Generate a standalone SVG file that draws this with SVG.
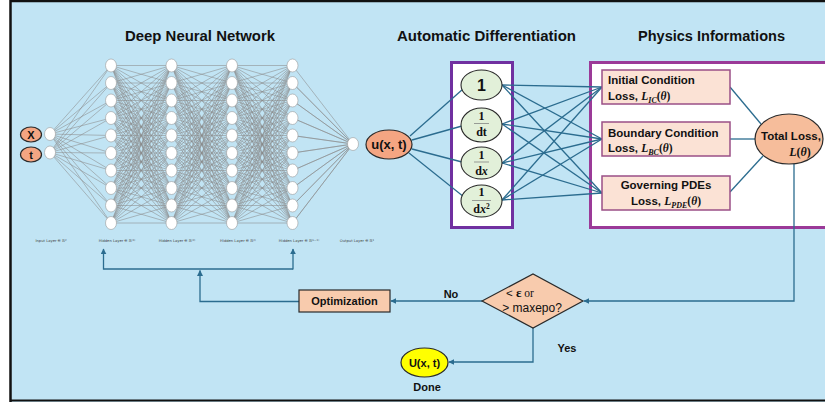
<svg xmlns="http://www.w3.org/2000/svg" xmlns:xlink="http://www.w3.org/1999/xlink" width="825" height="402" viewBox="0 0 825 402">
<style>
.sans{font-family:"Liberation Sans",Arial,sans-serif}
.b{font-family:"Liberation Sans",Arial,sans-serif;font-weight:bold;fill:#111}
.title{font-family:"Liberation Sans",Arial,sans-serif;font-weight:bold;font-size:14px;fill:#111;text-anchor:middle}
.m{font-family:"Liberation Serif","DejaVu Serif",serif;font-style:italic;font-weight:bold}
.sr{font-family:"Liberation Serif","DejaVu Serif",serif;font-weight:bold;fill:#111}
.lbl{font-family:"DejaVu Sans","Liberation Sans",sans-serif;font-size:3.7px;fill:#444;text-anchor:middle}
.neu{fill:#fff;stroke:#9a9a9a;stroke-width:0.6}
.mesh{fill:none;stroke:#8a8a8a;stroke-width:0.55;stroke-linejoin:round}
.con{fill:none;stroke:#2b6c8f;stroke-width:1.3}
.org{fill:#f4a582;stroke:#2a2a2a;stroke-width:1.2}
.grn{fill:#e2f0d9;stroke:#2a2a2a;stroke-width:1.1}
.loss{fill:#fbe2d5;stroke:#9a4f86;stroke-width:1.5}
.pch{fill:#f8cbad;stroke:#2a2a2a;stroke-width:1.2}
</style>
<defs>
<marker id="arr" viewBox="0 0 10 10" refX="9" refY="5" markerWidth="6" markerHeight="6" markerUnits="userSpaceOnUse" orient="auto"><path d="M0,0 L10,5 L0,10 z" fill="#2b6c8f"/></marker>
<path id="fan" d="M0,65.5 L60.5,83 0,83 60.5,100.5 0,100.5 60.5,118 0,118 60.5,135.5 0,135.5 60.5,153 0,153 60.5,170.5 0,170.5 60.5,188 0,188 60.5,205.5 0,205.5 60.5,223 0,223 60.5,65.5 0,65.5 60.5,118 0,83 60.5,135.5 0,100.5 60.5,153 0,118 60.5,170.5 0,135.5 60.5,188 0,153 60.5,205.5 0,170.5 60.5,223 0,188 60.5,65.5 0,205.5 60.5,83 0,223 60.5,100.5 0,65.5 60.5,153 0,83 60.5,170.5 0,100.5 60.5,188 0,118 60.5,205.5 0,135.5 60.5,223 0,153 60.5,65.5 0,170.5 60.5,83 0,188 60.5,100.5 0,205.5 60.5,118 0,223 60.5,135.5 0,65.5 60.5,188 0,83 60.5,205.5 0,100.5 60.5,223 0,118 60.5,65.5 0,135.5 60.5,83 0,153 60.5,100.5 0,170.5 60.5,118 0,188 60.5,135.5 0,205.5 60.5,153 0,223 60.5,170.5 0,65.5 60.5,223 0,83 60.5,65.5 0,100.5 60.5,83 0,118 60.5,100.5 0,135.5 60.5,118 0,153 60.5,135.5 0,170.5 60.5,153 0,188 60.5,170.5 0,205.5 60.5,188 0,223 60.5,205.5 0,65.5"/>
</defs>

<!-- background and frame -->
<rect x="0" y="0" width="825" height="402" fill="#ffffff"/>
<rect x="10" y="0" width="815" height="402" fill="#c1e4f4"/>
<line x1="10" y1="1" x2="825" y2="1" stroke="#111" stroke-width="2.5"/>
<line x1="10.5" y1="0" x2="10.5" y2="402" stroke="#111" stroke-width="2.5"/>
<line x1="10" y1="400.5" x2="825" y2="400.5" stroke="#111" stroke-width="2"/>

<!-- titles -->
<text class="title" x="200" y="41" textLength="150" lengthAdjust="spacingAndGlyphs">Deep Neural Network</text>
<text class="title" x="486.5" y="41" textLength="179" lengthAdjust="spacingAndGlyphs">Automatic Differentiation</text>
<text class="title" x="711.5" y="41" textLength="147" lengthAdjust="spacingAndGlyphs">Physics Informations</text>

<!-- container boxes -->
<g id="ad-box">
<rect x="451.5" y="62.5" width="61" height="165" fill="#fff" stroke="#7030a0" stroke-width="3"/>
</g>
<g id="physics-box">
<rect x="590.5" y="62.5" width="245" height="165" fill="#fff" stroke="#9b3a98" stroke-width="3"/>
</g>

<!-- neural network mesh -->
<g id="nn-mesh" class="mesh">
<path d="M50,134 L111,65.5 50,152.5 111,83 50,134 111,100.5 50,152.5 111,118 50,134 111,135.5 50,152.5 111,153 50,134 111,170.5 50,152.5 111,188 50,134 111,205.5 50,152.5 111,223 50,134"/>
<use href="#fan" xlink:href="#fan" x="111"/>
<use href="#fan" xlink:href="#fan" x="171.5"/>
<use href="#fan" xlink:href="#fan" x="232"/>
<path d="M292.5,65.5 L353,144 292.5,83 353,144 292.5,100.5 353,144 292.5,118 353,144 292.5,135.5 353,144 292.5,153 353,144 292.5,170.5 353,144 292.5,188 353,144 292.5,205.5 353,144 292.5,223 353,144"/>
</g>

<!-- connectors -->
<g id="connectors" class="con">
<line x1="410" y1="136" x2="463" y2="89"/>
<line x1="412" y1="140" x2="462" y2="126"/>
<line x1="412" y1="149" x2="462" y2="162"/>
<line x1="409" y1="153" x2="464" y2="197"/>

<line x1="502" y1="85" x2="602" y2="87"/>
<line x1="502" y1="85" x2="602" y2="139"/>
<line x1="502" y1="85" x2="602" y2="193"/>
<line x1="502" y1="124" x2="602" y2="87"/>
<line x1="502" y1="124" x2="602" y2="139"/>
<line x1="502" y1="124" x2="602" y2="193"/>
<line x1="502" y1="163" x2="602" y2="87"/>
<line x1="502" y1="163" x2="602" y2="139"/>
<line x1="502" y1="163" x2="602" y2="193"/>
<line x1="502" y1="200" x2="602" y2="87"/>
<line x1="502" y1="200" x2="602" y2="139"/>
<line x1="502" y1="200" x2="602" y2="193"/>

<line x1="730" y1="87" x2="761" y2="124"/>
<line x1="730" y1="139" x2="755" y2="139"/>
<line x1="730" y1="192" x2="763" y2="156"/>

<polyline points="794,164 794,301 584,301" marker-end="url(#arr)"/>
<line x1="482" y1="301" x2="391" y2="301" marker-end="url(#arr)"/>
<polyline points="533,328 533,362 449,362" marker-end="url(#arr)"/>
<polyline points="299,301.5 200,301.5 200,270.5" marker-end="url(#arr)"/>
<line x1="103.5" y1="269" x2="293" y2="269"/>
<line x1="103.5" y1="269.6" x2="103.5" y2="249" marker-end="url(#arr)"/>
<line x1="293" y1="269.6" x2="293" y2="249" marker-end="url(#arr)"/>
</g>

<!-- inputs -->
<g id="node-x">
<ellipse class="org" cx="31" cy="134.5" rx="10.5" ry="7.5"/>
<text class="b" x="31" y="138.5" font-size="11" text-anchor="middle">X</text>
</g>
<g id="node-t">
<ellipse class="org" cx="31" cy="154.5" rx="10.5" ry="7.5"/>
<text class="b" x="31" y="158.5" font-size="11" text-anchor="middle">t</text>
</g>

<!-- neuron layers -->
<g id="input-layer">
<ellipse class="neu" cx="50" cy="134" rx="5.5" ry="6.5"/>
<ellipse class="neu" cx="50" cy="152.5" rx="5.5" ry="6.5"/>
</g>
<g id="hidden-layer-1">
<ellipse class="neu" cx="111" cy="65.5" rx="5.5" ry="6.5"/><ellipse class="neu" cx="111" cy="83" rx="5.5" ry="6.5"/><ellipse class="neu" cx="111" cy="100.5" rx="5.5" ry="6.5"/><ellipse class="neu" cx="111" cy="118" rx="5.5" ry="6.5"/><ellipse class="neu" cx="111" cy="135.5" rx="5.5" ry="6.5"/><ellipse class="neu" cx="111" cy="153" rx="5.5" ry="6.5"/><ellipse class="neu" cx="111" cy="170.5" rx="5.5" ry="6.5"/><ellipse class="neu" cx="111" cy="188" rx="5.5" ry="6.5"/><ellipse class="neu" cx="111" cy="205.5" rx="5.5" ry="6.5"/><ellipse class="neu" cx="111" cy="223" rx="5.5" ry="6.5"/>
</g>
<g id="hidden-layer-2">
<ellipse class="neu" cx="171.5" cy="65.5" rx="5.5" ry="6.5"/><ellipse class="neu" cx="171.5" cy="83" rx="5.5" ry="6.5"/><ellipse class="neu" cx="171.5" cy="100.5" rx="5.5" ry="6.5"/><ellipse class="neu" cx="171.5" cy="118" rx="5.5" ry="6.5"/><ellipse class="neu" cx="171.5" cy="135.5" rx="5.5" ry="6.5"/><ellipse class="neu" cx="171.5" cy="153" rx="5.5" ry="6.5"/><ellipse class="neu" cx="171.5" cy="170.5" rx="5.5" ry="6.5"/><ellipse class="neu" cx="171.5" cy="188" rx="5.5" ry="6.5"/><ellipse class="neu" cx="171.5" cy="205.5" rx="5.5" ry="6.5"/><ellipse class="neu" cx="171.5" cy="223" rx="5.5" ry="6.5"/>
</g>
<g id="hidden-layer-3">
<ellipse class="neu" cx="232" cy="65.5" rx="5.5" ry="6.5"/><ellipse class="neu" cx="232" cy="83" rx="5.5" ry="6.5"/><ellipse class="neu" cx="232" cy="100.5" rx="5.5" ry="6.5"/><ellipse class="neu" cx="232" cy="118" rx="5.5" ry="6.5"/><ellipse class="neu" cx="232" cy="135.5" rx="5.5" ry="6.5"/><ellipse class="neu" cx="232" cy="153" rx="5.5" ry="6.5"/><ellipse class="neu" cx="232" cy="170.5" rx="5.5" ry="6.5"/><ellipse class="neu" cx="232" cy="188" rx="5.5" ry="6.5"/><ellipse class="neu" cx="232" cy="205.5" rx="5.5" ry="6.5"/><ellipse class="neu" cx="232" cy="223" rx="5.5" ry="6.5"/>
</g>
<g id="hidden-layer-4">
<ellipse class="neu" cx="292.5" cy="65.5" rx="5.5" ry="6.5"/><ellipse class="neu" cx="292.5" cy="83" rx="5.5" ry="6.5"/><ellipse class="neu" cx="292.5" cy="100.5" rx="5.5" ry="6.5"/><ellipse class="neu" cx="292.5" cy="118" rx="5.5" ry="6.5"/><ellipse class="neu" cx="292.5" cy="135.5" rx="5.5" ry="6.5"/><ellipse class="neu" cx="292.5" cy="153" rx="5.5" ry="6.5"/><ellipse class="neu" cx="292.5" cy="170.5" rx="5.5" ry="6.5"/><ellipse class="neu" cx="292.5" cy="188" rx="5.5" ry="6.5"/><ellipse class="neu" cx="292.5" cy="205.5" rx="5.5" ry="6.5"/><ellipse class="neu" cx="292.5" cy="223" rx="5.5" ry="6.5"/>
</g>
<g id="output-layer">
<ellipse class="neu" cx="353" cy="144" rx="5.5" ry="6.5"/>
</g>

<!-- layer labels -->
<g id="layer-labels">
<text class="lbl" x="51" y="242">Input Layer ∈ ℝ<tspan font-size="2.6" dy="-1.4">2</tspan></text>
<text class="lbl" x="117" y="242">Hidden Layer ∈ ℝ<tspan font-size="2.6" dy="-1.4">(1)</tspan></text>
<text class="lbl" x="177" y="242">Hidden Layer ∈ ℝ<tspan font-size="2.6" dy="-1.4">(2)</tspan></text>
<text class="lbl" x="238" y="242">Hidden Layer ∈ ℝ<tspan font-size="2.6" dy="-1.4">(l)</tspan></text>
<text class="lbl" x="299" y="242">Hidden Layer ∈ ℝ<tspan font-size="2.6" dy="-1.4">(L−1)</tspan></text>
<text class="lbl" x="357" y="242">Output Layer ∈ ℝ<tspan font-size="2.6" dy="-1.4">1</tspan></text>
</g>

<!-- u(x,t) -->
<g id="node-u">
<ellipse class="org" cx="389" cy="144.5" rx="23" ry="14.5"/>
<text class="b" x="389" y="149" font-size="13" text-anchor="middle">u(x, t)</text>
</g>

<!-- automatic differentiation nodes -->
<g id="ad-1">
<ellipse class="grn" cx="481.5" cy="85" rx="20.5" ry="15"/>
<text class="b" x="481.5" y="91" font-size="16" text-anchor="middle">1</text>
</g>
<g id="ad-dt">
<ellipse class="grn" cx="481.5" cy="125" rx="20.5" ry="17"/>
<text class="sr" x="481.5" y="120" font-size="12" text-anchor="middle">1</text>
<line x1="474" y1="123.5" x2="489" y2="123.5" stroke="#777" stroke-width="0.7"/>
<text class="sr" x="481.5" y="135.5" font-size="12" text-anchor="middle">dt</text>
</g>
<g id="ad-dx">
<ellipse class="grn" cx="481.5" cy="163" rx="20.5" ry="16"/>
<text class="sr" x="481.5" y="158.5" font-size="12" text-anchor="middle">1</text>
<line x1="474" y1="162" x2="489" y2="162" stroke="#777" stroke-width="0.7"/>
<text class="sr" x="481.5" y="175" font-size="12" text-anchor="middle">d<tspan font-style="italic">x</tspan></text>
</g>
<g id="ad-dx2">
<ellipse class="grn" cx="481.5" cy="201" rx="20.5" ry="16"/>
<text class="sr" x="481.5" y="196" font-size="12" text-anchor="middle">1</text>
<line x1="472" y1="200.5" x2="491" y2="200.5" stroke="#777" stroke-width="0.7"/>
<text class="sr" x="481.5" y="213" font-size="12" text-anchor="middle">d<tspan font-style="italic">x</tspan><tspan font-size="7.5" dy="-4">2</tspan></text>
</g>

<!-- physics nodes -->
<g id="loss-ic">
<rect class="loss" x="602" y="70" width="128" height="34"/>
<text class="b" x="608" y="84" font-size="11.5">Initial Condition</text>
<text class="b" x="608" y="100" font-size="11.5">Loss, <tspan class="m">L</tspan><tspan class="m" font-size="8" dy="2.5">IC</tspan><tspan class="sr" dy="-2.5">(<tspan class="m">θ</tspan>)</tspan></text>
</g>
<g id="loss-bc">
<rect class="loss" x="602" y="122" width="128" height="34"/>
<text class="b" x="608" y="137" font-size="11.5">Boundary Condition</text>
<text class="b" x="608" y="152" font-size="11.5">Loss, <tspan class="m">L</tspan><tspan class="m" font-size="8" dy="2.5">BC</tspan><tspan class="sr" dy="-2.5">(<tspan class="m">θ</tspan>)</tspan></text>
</g>
<g id="loss-pde">
<rect class="loss" x="602" y="176" width="128" height="34"/>
<text class="b" x="666" y="189" font-size="11.5" text-anchor="middle">Governing PDEs</text>
<text class="b" x="666" y="205" font-size="11.5" text-anchor="middle">Loss, <tspan class="m">L</tspan><tspan class="m" font-size="8" dy="2.5">PDE</tspan><tspan class="sr" dy="-2.5">(<tspan class="m">θ</tspan>)</tspan></text>
</g>
<g id="total-loss">
<ellipse cx="789" cy="139" rx="34" ry="25" fill="#f6bd9b" stroke="#2a2a2a" stroke-width="1.2"/>
<text class="b" x="791" y="140" font-size="11.5" text-anchor="middle">Total Loss,</text>
<text class="sr" x="800" y="156" font-size="12" text-anchor="middle"><tspan class="m">L</tspan>(<tspan class="m">θ</tspan>)</text>
</g>

<!-- decision -->
<g id="decision">
<polygon class="pch" points="482,301 533,274 583,301 533,328"/>
<text class="sans" x="506" y="297" font-size="11.5" fill="#111">&lt; <tspan class="sr" font-size="13">ε</tspan><tspan font-family="Liberation Serif,serif" font-size="11.5"> or</tspan></text>
<text class="sans" x="532" y="312" font-size="12" fill="#111" text-anchor="middle">&gt; maxepo?</text>
</g>
<g id="optimization">
<rect class="pch" x="299" y="290" width="91" height="22"/>
<text class="b" x="344.5" y="305" font-size="11" text-anchor="middle">Optimization</text>
</g>
<g id="done">
<ellipse cx="424.5" cy="362.5" rx="23.5" ry="14.5" fill="#ffff00" stroke="#2a2a2a" stroke-width="1.2"/>
<text class="b" x="424.5" y="366.5" font-size="11" text-anchor="middle">U(x, t)</text>
<text class="b" x="427" y="391" font-size="11" text-anchor="middle">Done</text>
</g>
<g id="edge-labels">
<text class="b" x="451" y="298" font-size="11" text-anchor="middle">No</text>
<text class="b" x="567" y="352" font-size="11" text-anchor="middle">Yes</text>
</g>
</svg>
